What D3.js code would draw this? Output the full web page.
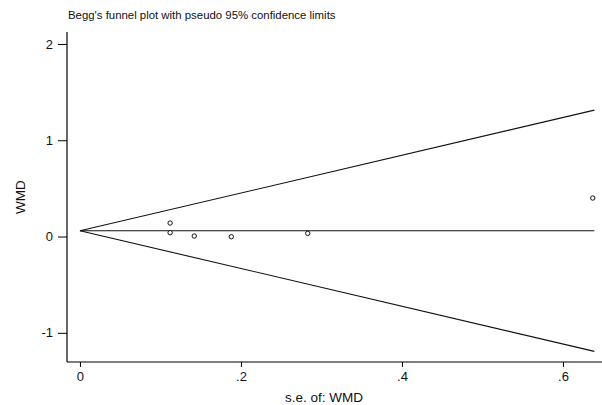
<!DOCTYPE html>
<html>
<head>
<meta charset="utf-8">
<script src="https://cdn.jsdelivr.net/npm/d3@7"></script>
<style>
  html, body { margin: 0; padding: 0; background: #fff; }
  svg { display: block; font-family: "Liberation Sans", Arial, sans-serif; }
</style>
</head>
<body>
<svg id="chart" width="602" height="405"></svg>
<script>
// ---- data ----
const title = "Begg's funnel plot with pseudo 95% confidence limits";
const xLabel = "s.e. of: WMD";
const yLabel = "WMD";
const seValues  = [0.112, 0.112, 0.142, 0.188, 0.283, 0.637];
const wmdValues = [0.140, 0.040, 0.005, -0.002, 0.033, 0.400];
const pooled = 0.06;
const seMax = 0.639;
const xTicks = [0, 0.2, 0.4, 0.6];
const yTicks = [-1, 0, 1, 2];
const xDomain = [-0.0161, 0.6485];
const yDomain = [-1.303, 2.124];

// ---- layout ----
const svg = d3.select("#chart");
const x = d3.scaleLinear().domain(xDomain).range([67, 602]);
const y = d3.scaleLinear().domain(yDomain).range([362, 32]);

const fmt = v => v === 0 ? "0" : (v < 0 ? "-" : "") + String(Math.abs(v)).replace(/^0\./, ".");

// title
svg.append("text")
  .attr("x", 68).attr("y", 19)
  .attr("font-size", 11.4)
  .attr("fill", "#111")
  .text(title);

// y axis
const yAxis = d3.axisLeft(y).tickValues(yTicks).tickFormat(fmt).tickSize(9).tickPadding(5);
const gy = svg.append("g").attr("transform", `translate(${x(xDomain[0])},0)`).call(yAxis);
gy.select(".domain").attr("d", `M0,${y(yDomain[0])}V${y(yDomain[1])}`).attr("stroke", "#000").attr("stroke-width", 1.2);
gy.selectAll(".tick line").attr("stroke", "#000").attr("stroke-width", 1);
gy.selectAll(".tick text").attr("font-size", 13).attr("fill", "#111").attr("font-family", "Liberation Sans, Arial, sans-serif");

// x axis
const xAxis = d3.axisBottom(x).tickValues(xTicks).tickFormat(fmt).tickSize(5).tickPadding(5);
const gx = svg.append("g").attr("transform", `translate(0,${y(yDomain[0])})`).call(xAxis);
gx.select(".domain").attr("d", `M${x(xDomain[0])},0H${x(xDomain[1])}`).attr("stroke", "#000").attr("stroke-width", 1.2);
gx.selectAll(".tick line").attr("stroke", "#000").attr("stroke-width", 1);
gx.selectAll(".tick text").attr("font-size", 13).attr("fill", "#111").attr("font-family", "Liberation Sans, Arial, sans-serif");

// axis titles
svg.append("text")
  .attr("x", 324).attr("y", 402)
  .attr("text-anchor", "middle")
  .attr("font-size", 13.5)
  .attr("fill", "#111")
  .text(xLabel);

svg.append("text")
  .attr("transform", `translate(25,${(y(yDomain[0]) + y(yDomain[1])) / 2}) rotate(-90)`)
  .attr("text-anchor", "middle")
  .attr("font-size", 13.5)
  .attr("fill", "#111")
  .text(yLabel);

// funnel lines
const line = d3.line().x(d => x(d[0])).y(d => y(d[1]));
const funnel = [
  [[0, pooled], [seMax, pooled + 1.96 * seMax]],
  [[0, pooled], [seMax, pooled - 1.96 * seMax]],
  [[0, pooled], [seMax, pooled]]
];
svg.append("g").selectAll("path").data(funnel).join("path")
  .attr("d", line)
  .attr("fill", "none")
  .attr("stroke", "#111")
  .attr("stroke-width", 1.1);

// points
svg.append("g").selectAll("circle").data(seValues.map((s, i) => [s, wmdValues[i]])).join("circle")
  .attr("cx", d => x(d[0]))
  .attr("cy", d => y(d[1]))
  .attr("r", 2.2)
  .attr("fill", "#fff")
  .attr("stroke", "#111")
  .attr("stroke-width", 1);
</script>
</body>
</html>
